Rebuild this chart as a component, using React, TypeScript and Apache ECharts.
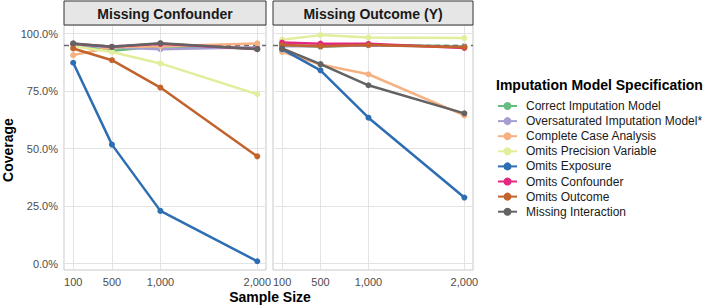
import React, { useEffect, useRef } from "react";
import * as echarts from "echarts";

const sampleSizes = [100, 500, 1000, 2000];
const yTicks = [0, 0.25, 0.5, 0.75, 1];
const panelTitles = ["Missing Confounder", "Missing Outcome (Y)"];
const specNames = [
  "Correct Imputation Model",
  "Oversaturated Imputation Model*",
  "Complete Case Analysis",
  "Omits Precision Variable",
  "Omits Exposure",
  "Omits Confounder",
  "Omits Outcome",
  "Missing Interaction",
];
const specColors = ["#66bd7e", "#a49fd0", "#f6b183", "#e2ee9b", "#2d6db2", "#e4287f", "#c2622c", "#636363"];

// Missing Confounder panel
const confCorrect = [0.95, 0.925, 0.945, 0.935];
const confOversat = [0.95, 0.94, 0.932, 0.94];
const confComplete = [0.906, 0.94, 0.945, 0.957];
const confPrecision = [0.945, 0.92, 0.87, 0.736];
const confExposure = [0.873, 0.517, 0.229, 0.01];
const confConfounder = [0.955, 0.942, 0.955, 0.932];
const confOutcome = [0.935, 0.884, 0.765, 0.466];
const confInteraction = [0.957, 0.942, 0.958, 0.932];

// Missing Outcome panel
const outCorrect = [0.95, 0.942, 0.95, 0.945];
const outOversat = [0.945, 0.945, 0.948, 0.943];
const outComplete = [0.92, 0.865, 0.823, 0.644];
const outPrecision = [0.973, 0.993, 0.983, 0.98];
const outExposure = [0.932, 0.84, 0.634, 0.287];
const outConfounder = [0.961, 0.956, 0.955, 0.937];
const outOutcome = [0.95, 0.945, 0.95, 0.94];
const outInteraction = [0.935, 0.867, 0.775, 0.653];

const targetCoverage = 0.95;

const panels = [
  [confCorrect, confOversat, confComplete, confPrecision, confExposure, confConfounder, confOutcome, confInteraction],
  [outCorrect, outOversat, outComplete, outPrecision, outExposure, outConfounder, outOutcome, outInteraction],
];

const FONT = "Liberation Sans";

export default function App() {
  const ref = useRef<HTMLDivElement>(null);
  useEffect(() => {
    if (!ref.current) return;
    const chart = echarts.init(ref.current, undefined, { renderer: "svg" });
    const grids = [
      { left: 64, top: 25, width: 202, height: 245 },
      { left: 273, top: 25, width: 200, height: 245 },
    ];
    const series: any[] = [];
    panels.forEach((panel, p) => {
      series.push({
        type: "line",
        xAxisIndex: p,
        yAxisIndex: p,
        data: [[100, 0.5]],
        showSymbol: false,
        lineStyle: { width: 0, opacity: 0 },
        silent: true,
        z: 1,
        markLine: {
          silent: true,
          symbol: "none",
          label: { show: false },
          lineStyle: { color: "#e3e3e3", width: 1, type: "solid" },
          data: [
            ...sampleSizes.map((x) => ({ xAxis: x })),
            ...yTicks.map((y) => ({ yAxis: y })),
          ],
        },
      });
      panel.forEach((vals, i) => {
        series.push({
          type: "line",
          name: specNames[i],
          xAxisIndex: p,
          yAxisIndex: p,
          data: sampleSizes.map((x, j) => [x, vals[j]]),
          symbol: "circle",
          symbolSize: 6,
          itemStyle: { color: specColors[i] },
          lineStyle: { color: specColors[i], width: 2.5 },
          z: 3 + i,
        });
      });
      series.push({
        type: "line",
        xAxisIndex: p,
        yAxisIndex: p,
        data: [[100, targetCoverage]],
        showSymbol: false,
        lineStyle: { width: 0, opacity: 0 },
        silent: true,
        z: 20,
        markLine: {
          silent: true,
          symbol: "none",
          label: { show: false },
          lineStyle: { color: "#6b6b6b", width: 1.3, type: [5, 4] },
          data: [{ yAxis: targetCoverage }],
        },
      });
    });

    const xAxes = [0, 1].map((p) => ({
      type: "value",
      gridIndex: p,
      min: 5,
      max: 2090,
      axisLine: { show: false },
      axisTick: { show: false },
      splitLine: { show: false },
      axisLabel: {
        customValues: sampleSizes,
        formatter: (v: number) => v.toLocaleString("en-US"),
        color: "#4d4d4d",
        fontSize: 11,
        fontFamily: FONT,
        margin: 6,
        hideOverlap: false,
      },
    }));
    const yAxes = [0, 1].map((p) => ({
      type: "value",
      gridIndex: p,
      min: -0.028,
      max: 1.037,
      axisLine: { show: false },
      axisTick: { show: false },
      splitLine: { show: false },
      axisLabel: {
        show: p === 0,
        customValues: yTicks,
        formatter: (v: number) => (v * 100).toFixed(1) + "%",
        color: "#4d4d4d",
        fontSize: 11,
        fontFamily: FONT,
        margin: 6,
      },
    }));

    const strips: any[] = [];
    grids.forEach((g, p) => {
      strips.push({
        type: "rect",
        shape: { x: g.left, y: 1, width: g.width, height: 24 },
        style: { fill: "#e6e6e6", stroke: "#333333", lineWidth: 1 },
        z: 10,
      });
      strips.push({
        type: "text",
        x: g.left + g.width / 2,
        y: 13.5,
        style: {
          text: panelTitles[p],
          fill: "#1a1a1a",
          font: `bold 14px "${FONT}"`,
          textAlign: "center",
          textVerticalAlign: "middle",
        },
        z: 11,
      });
    });

    chart.setOption({
      animation: false,
      grid: grids.map((g) => ({ ...g, show: true, borderColor: "#c9c9c9", borderWidth: 1, backgroundColor: "#ffffff" })),
      xAxis: xAxes,
      yAxis: yAxes,
      series,
      legend: {
        data: specNames,
        orient: "vertical",
        left: 497,
        top: 100,
        itemWidth: 19,
        itemHeight: 10,
        itemGap: 3.1,
        padding: 0,
        selectedMode: false,
        textStyle: { fontSize: 12, color: "#1a1a1a", fontFamily: FONT, padding: [0, 0, 0, 4] },
      },
      graphic: [
        ...strips,
        {
          type: "text",
          x: 496,
          y: 85,
          style: {
            text: "Imputation Model Specification",
            fill: "#000000",
            font: `bold 14px "${FONT}"`,
            textAlign: "left",
            textVerticalAlign: "middle",
          },
        },
        {
          type: "text",
          x: 8,
          y: 150,
          rotation: Math.PI / 2,
          style: {
            text: "Coverage",
            fill: "#000000",
            font: `bold 14px "${FONT}"`,
            textAlign: "center",
            textVerticalAlign: "middle",
          },
        },
        {
          type: "text",
          x: 270,
          y: 297,
          style: {
            text: "Sample Size",
            fill: "#000000",
            font: `bold 14px "${FONT}"`,
            textAlign: "center",
            textVerticalAlign: "middle",
          },
        },
      ],
    });
    return () => chart.dispose();
  }, []);
  return (
    <div
      ref={ref}
      style={{ position: "fixed", left: 0, top: 0, width: 709, height: 305, background: "#ffffff" }}
    />
  );
}
